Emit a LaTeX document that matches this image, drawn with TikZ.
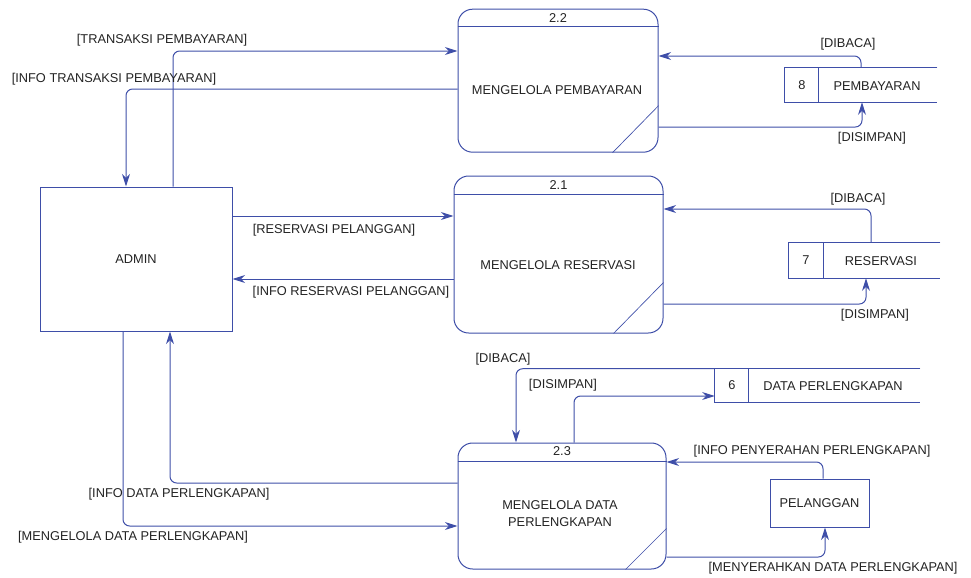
\documentclass[tikz,border=0pt]{standalone}
\usepackage{fontspec}
\setmainfont{Liberation Sans}
\usetikzlibrary{arrows.meta,calc}
\definecolor{lc}{RGB}{62,78,168}
\definecolor{tc}{RGB}{35,35,35}
\begin{document}
\begin{tikzpicture}[x=0.75pt,y=-0.75pt,
  every node/.style={text=tc,font=\fontsize{9.6}{12.75}\selectfont},
  box/.style={draw=lc,line width=0.75pt,inner sep=0pt},
  proc/.style={box,rounded corners=11pt},
  ghost/.style={inner sep=0pt},
  flow/.style={draw=lc,line width=0.75pt,rounded corners=5pt,-{Stealth[length=9.5pt,width=6pt,inset=3pt]}},
  lab/.style={inner sep=0pt,anchor=center}]
\useasboundingbox (0,0) rectangle (971,578);

% external entities
\node[box,minimum width=144pt,minimum height=108pt] (admin) at (136,259) {ADMIN};
\node[box,minimum width=74.25pt,minimum height=36pt] (pel) at (819.5,503) {PELANGGAN};

% processes
\node[proc,minimum width=150pt,minimum height=107.25pt] (p22) at (558,80.7) {};
\node[proc,minimum width=156.75pt,minimum height=117.75pt] (p21) at (558.5,254.5) {};
\node[proc,minimum width=156pt,minimum height=94.5pt] (p23) at (562,506) {};

\draw[lc,line width=0.75pt] ($(p22.north west)+(0,18)$) -- ($(p22.north east)+(0,18)$);
\draw[lc,line width=0.5pt] ($(p22.south east)+(0,-47)$) -- ($(p22.south east)+(-46,0)$);
\node[lab] (n22) at ($(p22.north)+(0,9)$) {2.2};
\node[lab] (t22) at (557,90) {MENGELOLA PEMBAYARAN};

\draw[lc,line width=0.75pt] ($(p21.north west)+(0,19)$) -- ($(p21.north east)+(0,19)$);
\draw[lc,line width=0.5pt] ($(p21.south east)+(0,-51)$) -- ($(p21.south east)+(-50,0)$);
\node[lab] (n21) at ($(p21.north)+(0,10)$) {2.1};
\node[lab] (t21) at (558,265) {MENGELOLA RESERVASI};

\draw[lc,line width=0.75pt] ($(p23.north west)+(0,19)$) -- ($(p23.north east)+(0,19)$);
\draw[lc,line width=0.5pt] ($(p23.south east)+(0,-41)$) -- ($(p23.south east)+(-41,0)$);
\node[lab] (n23) at ($(p23.north)+(0,9)$) {2.3};
\node[lab,align=center] (t23) at (560,514) {MENGELOLA DATA\\PERLENGKAPAN};

% data stores
\node[ghost,minimum width=114pt,minimum height=25.5pt] (s8) at (861,85) {};
\draw[lc,line width=0.75pt] (s8.north east) -- (s8.north west) -- (s8.south west) -- (s8.south east);
\draw[lc,line width=0.75pt] ($(s8.north west)+(34,0)$) -- ($(s8.south west)+(34,0)$);
\node[lab] (s8n) at (802,85) {8};
\node[lab] (s8t) at (877,86) {PEMBAYARAN};

\node[ghost,minimum width=113.25pt,minimum height=26.25pt] (s7) at (864.5,260.5) {};
\draw[lc,line width=0.75pt] (s7.north east) -- (s7.north west) -- (s7.south west) -- (s7.south east);
\draw[lc,line width=0.75pt] ($(s7.north west)+(35,0)$) -- ($(s7.south west)+(35,0)$);
\node[lab] (s7n) at (806,260) {7};
\node[lab] (s7t) at (881,261) {RESERVASI};

\node[ghost,minimum width=153.75pt,minimum height=24.75pt] (s6) at (817.5,385.5) {};
\draw[lc,line width=0.75pt] (s6.north east) -- (s6.north west) -- (s6.south west) -- (s6.south east);
\draw[lc,line width=0.75pt] ($(s6.north west)+(34,0)$) -- ($(s6.south west)+(34,0)$);
\node[lab] (s6n) at (732,385) {6};
\node[lab] (s6t) at (833,386) {DATA PERLENGKAPAN};

% connector bends
\coordinate (c1) at (173,51);
\coordinate (c2) at (126,89);
\coordinate (c3) at (0,216);
\coordinate (c4) at (0,279);
\coordinate (c5) at (861,56);
\coordinate (c6) at (862,127);
\coordinate (c7) at (871,209);
\coordinate (c8) at (866,304);
\coordinate (c9) at (516,370);
\coordinate (c10) at (574,396);
\coordinate (c11) at (823,462);
\coordinate (c12) at (825,557);
\coordinate (c13) at (170,483);
\coordinate (c14) at (123,526);

\draw[flow] (admin.north -| c1) |- (p22.west |- c1);
\draw[flow] (p22.west |- c2) -| (admin.north -| c2);
\draw[flow] (admin.east |- c3) -- (p21.west |- c3);
\draw[flow] (p21.west |- c4) -- (admin.east |- c4);
\draw[flow] (s8.north -| c5) |- (p22.east |- c5);
\draw[flow] (p22.east |- c6) -| (s8.south -| c6);
\draw[flow] (s7.north -| c7) |- (p21.east |- c7);
\draw[flow] (p21.east |- c8) -| (s7.south -| c8);
\draw[flow] (s6.north west) -| (p23.north -| c9);
\draw[flow] (p23.north -| c10) |- (s6.west |- c10);
\draw[flow] (pel.north -| c11) |- (p23.east |- c11);
\draw[flow] (p23.east |- c12) -| (pel.south -| c12);
\draw[flow] (p23.west |- c13) -| (admin.south -| c13);
\draw[flow] (admin.south -| c14) |- (p23.west |- c14);

% labels
\node[lab] (l1) at (162,40) {[TRANSAKSI PEMBAYARAN]};
\node[lab] (l2) at (114,79) {[INFO TRANSAKSI PEMBAYARAN]};
\node[lab] (l3) at (334,230) {[RESERVASI PELANGGAN]};
\node[lab] (l4) at (351,292) {[INFO RESERVASI PELANGGAN]};
\node[lab] (l5) at (848,44) {[DIBACA]};
\node[lab] (l6) at (872,138) {[DISIMPAN]};
\node[lab] (l7) at (858,199) {[DIBACA]};
\node[lab] (l8) at (875,315) {[DISIMPAN]};
\node[lab] (l9) at (503,359) {[DIBACA]};
\node[lab] (l10) at (563,385) {[DISIMPAN]};
\node[lab] (l11) at (812,451) {[INFO PENYERAHAN PERLENGKAPAN]};
\node[lab] (l12) at (833,568) {[MENYERAHKAN DATA PERLENGKAPAN]};
\node[lab] (l13) at (179,494) {[INFO DATA PERLENGKAPAN]};
\node[lab] (l14) at (133,537) {[MENGELOLA DATA PERLENGKAPAN]};
\end{tikzpicture}
\end{document}
